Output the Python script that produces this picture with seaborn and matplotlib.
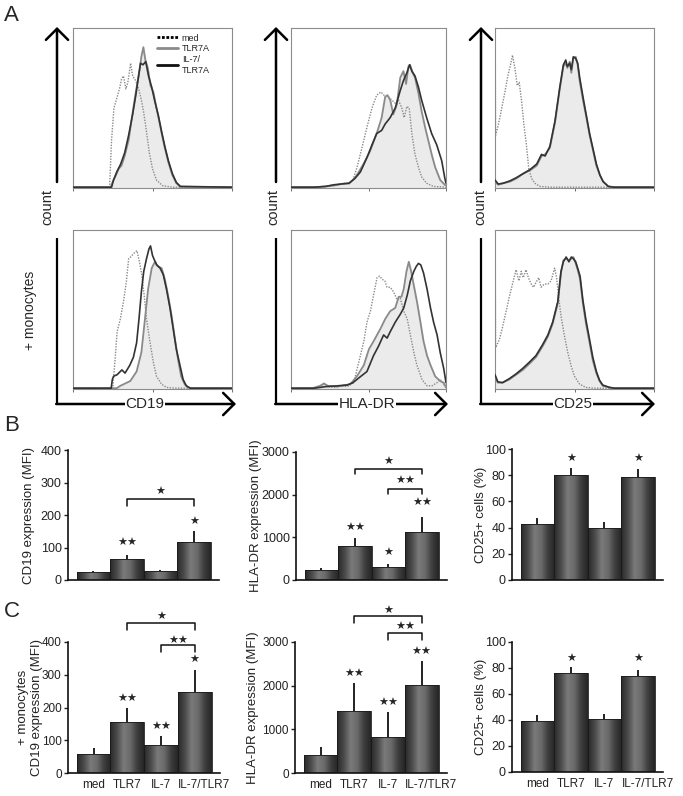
import numpy as np
import matplotlib
matplotlib.use('Agg')
import matplotlib.pyplot as plt
import seaborn as sns
from matplotlib.colors import LinearSegmentedColormap
from matplotlib.lines import Line2D
from matplotlib.transforms import ScaledTranslation

sns.set_style('ticks')
plt.rcParams['font.family'] = ['Liberation Sans', 'DejaVu Sans']

# ---- histogram traces: (position in log decades, % of panel height) ----
cd19_med = [(0, 0.5), (0.92, 0.5), (0.97, 30), (1.03, 50), (1.1, 56), (1.17, 62), (1.22, 68), (1.27, 70),
            (1.33, 62), (1.38, 66), (1.45, 78), (1.5, 70), (1.58, 67), (1.65, 62), (1.72, 55), (1.78, 47),
            (1.85, 35), (1.92, 22), (2.0, 12), (2.1, 5), (2.25, 1.5), (2.5, 0.5), (4, 0.5)]
cd19_tlr7a = [(0, 0.5), (0.95, 0.5), (1.0, 4), (1.08, 8), (1.15, 12), (1.22, 14), (1.3, 20), (1.4, 30),
              (1.5, 47), (1.58, 60), (1.65, 70), (1.72, 82), (1.77, 88), (1.82, 80), (1.88, 75), (1.95, 64),
              (2.02, 60), (2.1, 50), (2.2, 38), (2.3, 26), (2.4, 16), (2.5, 8), (2.6, 3), (2.7, 0.8), (4, 0.5)]
cd19_il7 = [(0, 0.5), (0.97, 0.5), (1.02, 5), (1.1, 10), (1.2, 15), (1.3, 22), (1.4, 33), (1.5, 46),
            (1.58, 58), (1.65, 70), (1.7, 78), (1.76, 77), (1.83, 79), (1.9, 70), (1.98, 63), (2.06, 54),
            (2.15, 45), (2.23, 35), (2.32, 25), (2.4, 17), (2.5, 9), (2.6, 3.5), (2.7, 1), (4, 0.5)]

hla_med = [(0, 0.5), (0.6, 0.5), (0.9, 1), (1.0, 1.5), (1.2, 2), (1.35, 3), (1.5, 2.5), (1.6, 5), (1.7, 12.6),
           (1.83, 25), (1.96, 38), (2.09, 50), (2.21, 58), (2.32, 60), (2.4, 58), (2.51, 57), (2.6, 55),
           (2.69, 53), (2.77, 55), (2.86, 50), (2.92, 44), (2.99, 51), (3.05, 50), (3.12, 34), (3.2, 21),
           (3.29, 13), (3.37, 7), (3.5, 3), (3.67, 1), (4, 0.5)]
hla_tlr7a = [(0, 0.5), (0.6, 0.5), (0.9, 1), (1.1, 1.5), (1.3, 2.5), (1.49, 3), (1.6, 5), (1.7, 8), (1.87, 15),
             (2.04, 23), (2.21, 34), (2.34, 44), (2.43, 57), (2.49, 58), (2.56, 55), (2.64, 46), (2.73, 52),
             (2.82, 69), (2.9, 73), (2.97, 65), (3.03, 76), (3.07, 77), (3.14, 72), (3.2, 69), (3.29, 59),
             (3.37, 48), (3.46, 38), (3.55, 29), (3.63, 21), (3.72, 13), (3.85, 5), (3.97, 2), (4, 1.5)]
hla_il7 = [(0, 0.5), (0.6, 0.5), (0.9, 1), (1.1, 2), (1.3, 2.5), (1.5, 3), (1.65, 6), (1.79, 10), (1.96, 19),
           (2.09, 27), (2.21, 34), (2.34, 36), (2.43, 40), (2.56, 44), (2.69, 50), (2.82, 61), (2.9, 67),
           (2.99, 72), (3.06, 77), (3.12, 73), (3.2, 70), (3.29, 63), (3.37, 55), (3.5, 44), (3.63, 34),
           (3.76, 27), (3.89, 17), (3.97, 6), (4, 3)]

cd25_med = [(0, 0.5), (0.005, 95), (0.015, 33), (0.08, 39), (0.17, 50), (0.25, 60), (0.33, 71), (0.39, 77),
            (0.44, 83), (0.5, 75), (0.56, 64), (0.61, 66), (0.67, 54), (0.73, 39), (0.79, 27), (0.85, 12),
            (0.92, 6), (1.0, 3), (1.13, 1), (1.4, 0.5), (4, 0.5)]
cd25_tlr7a = [(0, 4), (0.08, 2), (0.21, 3), (0.38, 4), (0.54, 6), (0.71, 9), (0.88, 11), (1.05, 14), (1.17, 20),
              (1.26, 21), (1.38, 25), (1.51, 41), (1.63, 62), (1.72, 76), (1.78, 78), (1.82, 75), (1.88, 79),
              (1.92, 72), (1.97, 81), (2.03, 82), (2.08, 77), (2.13, 67), (2.22, 54), (2.3, 44), (2.38, 33),
              (2.47, 23), (2.55, 14), (2.64, 8), (2.72, 4), (2.85, 1), (3.0, 0.5), (4, 0.5)]
cd25_il7 = [(0, 5), (0.08, 2.5), (0.21, 3), (0.38, 4.5), (0.54, 6.5), (0.71, 9), (0.88, 11.5), (1.05, 15),
            (1.17, 21), (1.26, 20), (1.38, 26), (1.51, 42), (1.63, 63), (1.72, 77), (1.78, 80), (1.82, 76),
            (1.88, 78), (1.92, 74), (1.97, 82), (2.03, 81), (2.08, 78), (2.13, 69), (2.22, 56), (2.3, 45),
            (2.38, 34), (2.47, 24), (2.55, 15), (2.64, 8), (2.72, 4), (2.85, 1), (3.0, 0.5), (4, 0.5)]

cd19m_med = [(0, 0.5), (1.0, 0.5), (1.03, 10), (1.06, 19), (1.11, 36), (1.19, 44), (1.27, 55), (1.34, 67),
             (1.4, 82), (1.45, 83), (1.52, 85), (1.56, 86), (1.61, 87), (1.67, 80), (1.73, 72), (1.79, 59),
             (1.85, 44), (1.94, 29), (2.02, 17), (2.1, 8), (2.23, 3), (2.35, 1), (2.6, 0.5), (4, 0.5)]
cd19m_tlr7a = [(0, 0.5), (1.1, 0.5), (1.19, 2), (1.44, 5), (1.6, 11), (1.72, 23), (1.81, 44), (1.89, 63),
               (1.98, 76), (2.06, 80), (2.1, 78), (2.15, 77), (2.23, 76), (2.31, 69), (2.39, 59), (2.48, 46),
               (2.56, 32), (2.64, 19), (2.72, 8), (2.81, 3), (2.89, 1), (3.0, 0.5), (4, 0.5)]
cd19m_il7 = [(0, 0.5), (0.96, 0.5), (0.99, 6), (1.02, 8), (1.11, 9), (1.23, 12), (1.31, 10), (1.43, 15),
             (1.52, 20), (1.6, 29), (1.66, 44), (1.72, 61), (1.78, 74), (1.85, 82), (1.91, 88), (1.95, 90),
             (2.0, 84), (2.05, 81), (2.11, 78), (2.19, 76), (2.27, 72), (2.35, 63), (2.44, 51), (2.52, 38),
             (2.6, 25), (2.69, 15), (2.77, 6), (2.85, 2), (2.95, 0.5), (4, 0.5)]

hlam_med = [(0, 0.5), (0.55, 0.5), (0.75, 1.5), (0.85, 3), (0.95, 1.5), (1.1, 1), (1.3, 2), (1.45, 1.5),
            (1.62, 4), (1.75, 17), (1.88, 30), (1.96, 42), (2.05, 49), (2.13, 59), (2.22, 70), (2.29, 71),
            (2.35, 69), (2.42, 68), (2.48, 64), (2.56, 64), (2.65, 61), (2.74, 56), (2.82, 57), (2.91, 49),
            (3.0, 44), (3.08, 34), (3.17, 23), (3.25, 15), (3.38, 6), (3.51, 2), (3.64, 2), (3.77, 4),
            (3.85, 6), (3.94, 3), (4, 1)]
hlam_tlr7a = [(0, 0.5), (0.55, 0.5), (0.75, 2), (0.85, 3.5), (0.95, 2), (1.2, 1.5), (1.4, 2.5), (1.53, 3),
              (1.7, 8), (1.88, 15), (2.01, 25), (2.13, 30), (2.22, 34), (2.31, 38), (2.43, 44), (2.56, 49),
              (2.69, 51), (2.78, 58), (2.85, 58), (2.91, 63), (2.98, 74), (3.04, 80), (3.1, 74), (3.17, 65),
              (3.25, 55), (3.34, 42), (3.42, 30), (3.51, 21), (3.6, 15), (3.72, 8), (3.85, 5), (3.94, 4), (4, 1)]
hlam_il7 = [(0, 0.5), (0.6, 0.5), (0.9, 1.5), (1.2, 2), (1.45, 2.5), (1.6, 4), (1.7, 6), (1.96, 11), (2.13, 21),
            (2.26, 27), (2.39, 34), (2.48, 32), (2.56, 36), (2.69, 42), (2.82, 47), (2.91, 51), (3.0, 59),
            (3.08, 68), (3.17, 74), (3.23, 77), (3.29, 79), (3.35, 78), (3.42, 73), (3.51, 63), (3.6, 51),
            (3.68, 42), (3.77, 34), (3.85, 23), (3.94, 13), (4, 4)]

cd25m_med = [(0, 0.5), (0.005, 95), (0.015, 26), (0.11, 31), (0.19, 39), (0.29, 50), (0.36, 58), (0.45, 67),
             (0.53, 75), (0.6, 68), (0.66, 74), (0.71, 70), (0.78, 75), (0.84, 70), (0.91, 66), (0.97, 64),
             (1.03, 67), (1.1, 70), (1.16, 64), (1.24, 66), (1.33, 66), (1.41, 68), (1.5, 76), (1.55, 70),
             (1.6, 58), (1.66, 46), (1.75, 33), (1.83, 23), (1.92, 14), (2.0, 8), (2.13, 3), (2.29, 1),
             (2.5, 0.5), (4, 0.5)]
cd25m_tlr7a = [(0, 8), (0.07, 4), (0.19, 4), (0.36, 6), (0.53, 9), (0.7, 12), (0.87, 16), (1.03, 20),
               (1.2, 27), (1.33, 33), (1.45, 41), (1.58, 54), (1.66, 73), (1.72, 81), (1.79, 82), (1.86, 81),
               (1.92, 82), (1.97, 83), (2.03, 79), (2.08, 75), (2.14, 69), (2.21, 54), (2.29, 41), (2.38, 29),
               (2.46, 18), (2.55, 10), (2.63, 5), (2.71, 2), (2.88, 1), (3.0, 0.5), (4, 0.5)]
cd25m_il7 = [(0, 9), (0.07, 4.5), (0.19, 4), (0.36, 6.5), (0.53, 9.5), (0.7, 13), (0.87, 17), (1.03, 21),
             (1.2, 28), (1.33, 34), (1.45, 42), (1.58, 55), (1.66, 74), (1.72, 80), (1.79, 83), (1.86, 80),
             (1.92, 83), (1.97, 82), (2.03, 80), (2.08, 76), (2.14, 71), (2.21, 56), (2.29, 43), (2.38, 31),
             (2.46, 20), (2.55, 11), (2.63, 5.5), (2.71, 2.5), (2.88, 1), (3.0, 0.5), (4, 0.5)]

legend_labels = ['med', 'TLR7A', 'IL-7/\nTLR7A']
markers = ['CD19', 'HLA-DR', 'CD25']

# ---- bar charts ----
groups = ['med', 'TLR7', 'IL-7', 'IL-7/TLR7']

cd19_b = [25, 65, 27, 118]
cd19_b_err = [4, 11, 3, 33]
hla_b = [240, 790, 300, 1120]
hla_b_err = [45, 190, 80, 360]
cd25_b = [42.5, 80.5, 39.8, 78.8]
cd25_b_err = [5, 4.8, 4.6, 5.6]

cd19_c = [59, 157, 86, 247]
cd19_c_err = [17, 40, 28, 69]
hla_c = [405, 1420, 830, 2020]
hla_c_err = [190, 630, 560, 540]
cd25_c = [39.5, 76.5, 40.8, 73.8]
cd25_c_err = [4, 4.4, 4.2, 5]

# significance over single bars: (bar, label, y)
cd19_b_sig = [(1, '**', 113), (3, '*', 180)]
hla_b_sig = [(1, '**', 1224), (2, '*', 640), (3, '**', 1816)]
cd25_b_sig = [(1, '*', 92.3), (3, '*', 92.3)]
cd19_c_sig = [(1, '**', 227), (2, '**', 142), (3, '*', 344)]
hla_c_sig = [(1, '**', 2272), (2, '**', 1596), (3, '**', 2762)]
cd25_c_sig = [(1, '*', 87.2), (3, '*', 87.2)]

# brackets: (from bar, to bar, line y, label, label y)
cd19_b_br = [(1, 3, 249, '*', 270)]
hla_b_br = [(1, 3, 2611, '*', 2767), (2, 3, 2143, '**', 2322)]
cd19_c_br = [(1, 3, 459, '*', 476), (2, 3, 390, '**', 404)]
hla_c_br = [(1, 3, 3584, '*', 3722), (2, 3, 3207, '**', 3345)]

W, H = 683, 796
fig = plt.figure(figsize=(W / 100, H / 100), dpi=100)


def px_axes(l, t, r, b):
    return fig.add_axes([l / W, 1 - b / H, (r - l) / W, (b - t) / H])


ov = px_axes(0, 0, W, H)
ov.set_xlim(0, W)
ov.set_ylim(H, 0)
ov.axis('off')


def hist_panel(ax, med, tlr, il7, legend=False):
    for spine in ax.spines.values():
        spine.set_color('#8c8c8c')
        spine.set_linewidth(0.8)
    xt = 10 ** np.array([p[0] for p in tlr])
    yt = np.array([p[1] for p in tlr])
    ax.fill_between(xt, 0, yt, color='#ebebeb', zorder=1)
    ax.plot(10 ** np.array([p[0] for p in med]), [p[1] for p in med], color='#8a8a8a', lw=1.0,
            ls=(0, (1, 1)), zorder=2)
    ax.plot(xt, yt, color='#8a8a8a', lw=1.3, zorder=3)
    ax.plot(10 ** np.array([p[0] for p in il7]), [p[1] for p in il7], color='#333333', lw=1.2, zorder=4)
    ax.set_xscale('log')
    ax.set_xlim(1, 1e4)
    ax.set_ylim(0, 100)
    ax.set_yticks([])
    ax.tick_params(axis='x', which='major', direction='inout', length=4, width=0.6, color='#555555',
                   labelbottom=False)
    ax.tick_params(axis='x', which='minor', direction='inout', length=2, width=0.5, color='#555555')
    if legend:
        handles = [Line2D([], [], color='k', lw=2, ls=(0, (1, 0.6))),
                   Line2D([], [], color='#8a8a8a', lw=2),
                   Line2D([], [], color='#111111', lw=2)]
        ax.legend(handles, legend_labels, loc='upper left', bbox_to_anchor=(0.48, 1.01), frameon=False,
                  fontsize=6.5, handlelength=2.4, handletextpad=0.4, labelspacing=0.2, borderpad=0.3)


hist_boxes = [(73, 28, 232, 188), (291, 28, 446, 188), (495, 28, 654, 188),
              (73, 230, 232, 389), (291, 230, 446, 389), (495, 230, 654, 389)]
hist_data = [(cd19_med, cd19_tlr7a, cd19_il7), (hla_med, hla_tlr7a, hla_il7), (cd25_med, cd25_tlr7a, cd25_il7),
             (cd19m_med, cd19m_tlr7a, cd19m_il7), (hlam_med, hlam_tlr7a, hlam_il7),
             (cd25m_med, cd25m_tlr7a, cd25m_il7)]
for k, (box, d) in enumerate(zip(hist_boxes, hist_data)):
    hist_panel(px_axes(*box), *d, legend=(k == 0))

# axis arrows drawn around the histogram columns
arrow_cols = [(57, 236, 145, 47), (276, 448, 367, 273), (481, 655, 573, 480)]
head = dict(arrowstyle='->,head_length=0.4,head_width=0.4', lw=1.8, color='k', mutation_scale=20,
            shrinkA=0, shrinkB=0)
for (x, xend, lx, cx), name in zip(arrow_cols, markers):
    ov.annotate('', xy=(x, 27), xytext=(x, 182), arrowprops=head)
    ov.plot([x, x], [238, 404], color='k', lw=1.6, solid_capstyle='butt')
    ov.annotate('', xy=(xend, 404), xytext=(x - 0.8, 404), arrowprops=head)
    ov.text(lx, 404, name, ha='center', va='center', fontsize=11,
            bbox=dict(facecolor='white', edgecolor='none', pad=0.5))
    ov.text(cx, 207, 'count', rotation=90, ha='center', va='center', fontsize=10.5)
ov.text(30, 310, '+ monocytes', rotation=90, ha='center', va='center', fontsize=10)

for letter, y in [('A', 5), ('B', 415), ('C', 601)]:
    ov.text(4, y, letter, ha='left', va='top', fontsize=16)

shade = LinearSegmentedColormap.from_list('bar', ['#2a2a2a', '#4b4b4b', '#7a7a7a', '#6a6a6a', '#3e3e3e',
                                                  '#262626'])
grad = np.linspace(0, 1, 64).reshape(1, -1)
STAR = '\u2605'


def bar_panel(ax, means, errs, top, ticks, ylabel, lab_x, sig, brackets, tick_h, show_x, tsize=9):
    sns.barplot(x=groups, y=means, ax=ax, width=1.0, color='#555555', edgecolor='#1a1a1a',
                linewidth=0.6, errorbar=None, zorder=2)
    for p in ax.patches:
        x0, y0, w, h = p.get_x(), p.get_y(), p.get_width(), p.get_height()
        im = ax.imshow(grad, extent=[x0, x0 + w, y0, y0 + h], aspect='auto', cmap=shade, zorder=2)
        im.set_clip_path(p)
        p.set_facecolor('none')
        p.set_zorder(3)
    ax.errorbar(np.arange(4), means, yerr=[np.zeros(4), errs], fmt='none', ecolor='#111111',
                elinewidth=1.3, capsize=0, zorder=4)
    ax.set_xlim(-0.76, 3.75)
    ax.set_ylim(0, top)
    ax.set_yticks(ticks)
    sns.despine(ax=ax)
    for s in ['left', 'bottom']:
        ax.spines[s].set_linewidth(1.2)
        ax.spines[s].set_color('#111111')
    ax.tick_params(axis='y', direction='out', length=3, width=1, labelsize=tsize, pad=1.5, colors='#222222')
    ax.tick_params(axis='x', length=0, pad=4.5, labelsize=8.5, colors='#222222')
    ax.set_xlabel('')
    ax.set_ylabel(ylabel, fontsize=9.5, color='#222222', linespacing=1.25)
    ax.yaxis.set_label_coords(lab_x, 0.5)
    if show_x:
        ax.set_xticks(range(4))
        ax.set_xticklabels(groups)
        last = ax.get_xticklabels()[-1]
        last.set_ha('left')
        last.set_transform(last.get_transform() + ScaledTranslation(-0.165, 0, fig.dpi_scale_trans))
    else:
        ax.set_xticklabels([])
    for i, s, y in sig:
        ax.text(i, y, s.replace('*', STAR), ha='center', va='center', fontsize=8,
                family='DejaVu Sans', clip_on=False)
    for i, j, y, s, ys in brackets:
        ax.plot([i, i, j, j], [y - tick_h, y, y, y - tick_h], color='#111111', lw=1.1, clip_on=False)
        ax.text((i + j) / 2, ys, s.replace('*', STAR), ha='center', va='center', fontsize=8,
                family='DejaVu Sans', clip_on=False)


bar_panel(px_axes(68, 450, 219, 580), cd19_b, cd19_b_err, 400, [0, 100, 200, 300, 400],
          'CD19 expression (MFI)', -0.22, cd19_b_sig, cd19_b_br, 20, False)
bar_panel(px_axes(296, 452, 447, 580), hla_b, hla_b_err, 3000, [0, 1000, 2000, 3000],
          'HLA-DR expression (MFI)', -0.225, hla_b_sig, hla_b_br, 130, False)
bar_panel(px_axes(512, 449, 663, 580), cd25_b, cd25_b_err, 100, [0, 20, 40, 60, 80, 100],
          'CD25+ cells (%)', -0.166, cd25_b_sig, [], 0, False)
bar_panel(px_axes(68, 642, 220, 773), cd19_c, cd19_c_err, 400, [0, 100, 200, 300, 400],
          '+ monocytes\nCD19 expression (MFI)', -0.165, cd19_c_sig, cd19_c_br, 21, True, tsize=8.5)
bar_panel(px_axes(295, 642, 447, 773), hla_c, hla_c_err, 3000, [0, 1000, 2000, 3000],
          'HLA-DR expression (MFI)', -0.235, hla_c_sig, hla_c_br, 154, True, tsize=8.5)
bar_panel(px_axes(512, 642, 663, 772), cd25_c, cd25_c_err, 100, [0, 20, 40, 60, 80, 100],
          'CD25+ cells (%)', -0.166, cd25_c_sig, [], 0, True)

fig.savefig('out.png', dpi=100)
